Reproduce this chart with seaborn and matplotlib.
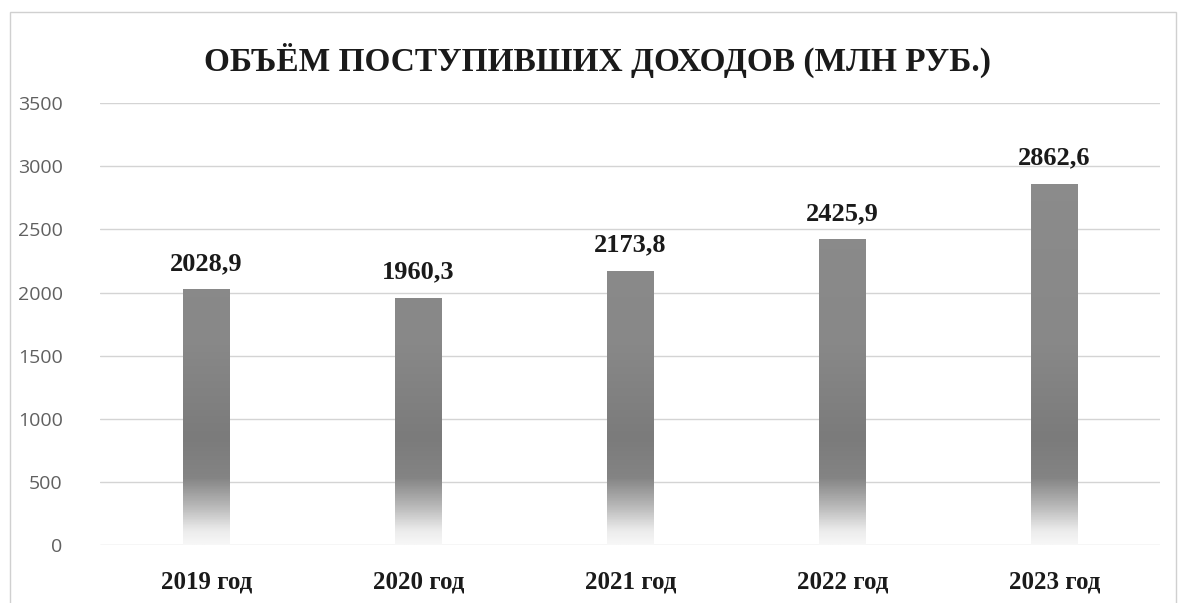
import numpy as np
import pandas as pd
import matplotlib
matplotlib.use('Agg')
import matplotlib.pyplot as plt
from matplotlib.colors import LinearSegmentedColormap
from matplotlib.patches import Rectangle
import seaborn as sns

# Data
years = ['2019 год', '2020 год', '2021 год', '2022 год', '2023 год']
values = [2028.9, 1960.3, 2173.8, 2425.9, 2862.6]
y_ticks = [0, 500, 1000, 1500, 2000, 2500, 3000, 3500]
title = 'ОБЪЁМ ПОСТУПИВШИХ ДОХОДОВ (МЛН РУБ.)'

df = pd.DataFrame({'year': years, 'value': values})

sns.set_theme(style='white')
serif = ['Liberation Serif', 'DejaVu Serif']

fig = plt.figure(figsize=(11.78, 6.03), dpi=100)
ax = fig.add_axes([0.085, 0.096, 0.9, 0.733])

sns.barplot(data=df, x='year', y='value', color='#8a8a8a', width=0.22, ax=ax)

# vertical fade: white at the base, dark gray above
ymax = 3500
cmap = LinearSegmentedColormap.from_list('fade', [
    (0.0, '#f7f7f7'), (0.03, '#ececec'), (0.08, '#bdbdbd'),
    (0.15, '#848484'), (0.24, '#7b7b7b'), (0.45, '#888888'), (1.0, '#8d8d8d')])
grad = np.linspace(0, 1, 700).reshape(-1, 1)
for bar in ax.patches:
    x0, w = bar.get_x(), bar.get_width()
    bar.set_edgecolor('none')
    im = ax.imshow(grad, extent=[x0, x0 + w, 0, ymax], origin='lower',
                   aspect='auto', cmap=cmap, vmin=0, vmax=1,
                   zorder=bar.get_zorder() + 0.1, interpolation='bilinear')
    im.set_clip_path(bar)

for i, v in enumerate(values):
    ax.text(i, v + 110, f'{v:.1f}'.replace('.', ','), ha='center', va='bottom',
            fontsize=19, fontweight='bold', family=serif, color='#1a1a1a')

ax.set_xlim(-0.5, len(years) - 0.5)
ax.set_ylim(0, ymax)
ax.set_yticks(y_ticks)
ax.yaxis.grid(True, color='#d4d4d4', lw=1)
ax.set_axisbelow(True)
ax.set_xlabel('')
ax.set_ylabel('')
sns.despine(ax=ax, left=True, bottom=True)
ax.tick_params(axis='both', length=0)
ax.tick_params(axis='y', pad=27, labelsize=14, labelcolor='#606060')
ax.tick_params(axis='x', pad=18)
for lab in ax.get_yticklabels():
    lab.set_family(['Open Sans', 'DejaVu Sans'])
for lab in ax.get_xticklabels():
    lab.set_family(serif)
    lab.set_fontweight('bold')
    lab.set_fontsize(18)
    lab.set_color('#1a1a1a')

fig.text(0.507, 0.9, title, ha='center', va='center', fontsize=24,
         fontweight='bold', family=serif, color='#1a1a1a')

fig.patches.append(Rectangle((0.0085, -0.01), 0.99, 0.99, transform=fig.transFigure,
                             fill=False, edgecolor='#d0d0d0', lw=1))

fig.savefig('out.png', dpi=100)
